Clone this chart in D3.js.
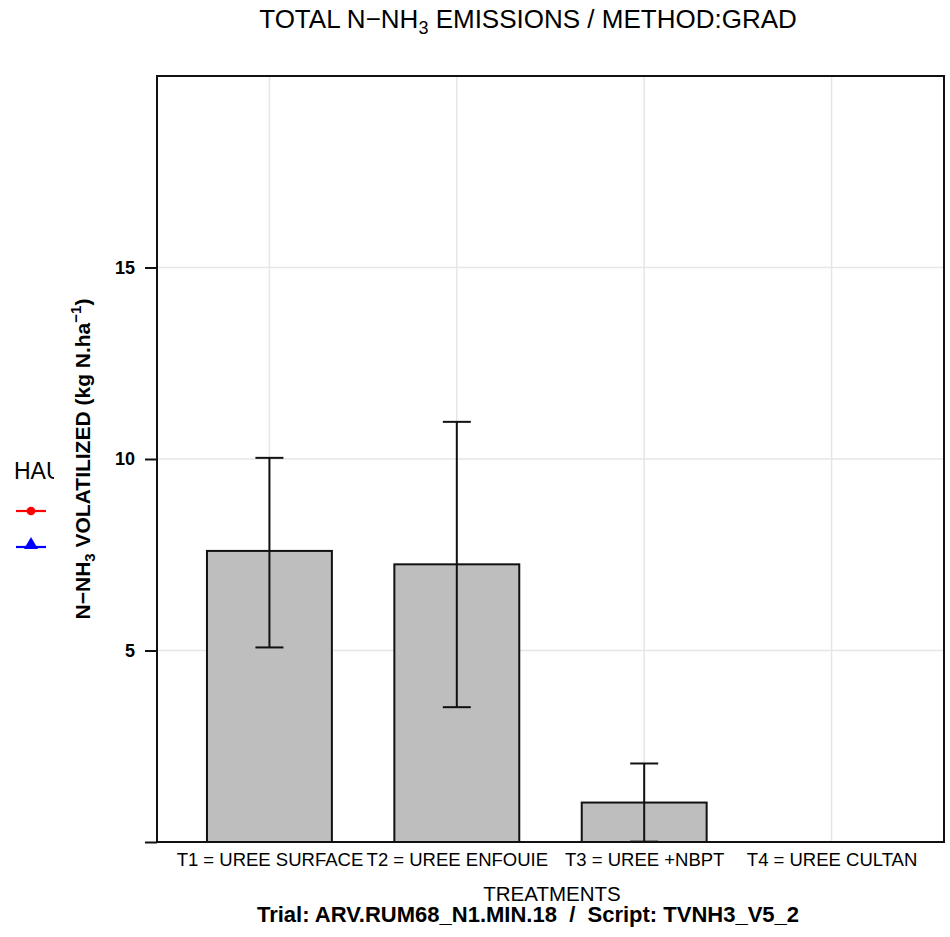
<!DOCTYPE html>
<html><head><meta charset="utf-8">
<script src="https://cdn.jsdelivr.net/npm/d3@7"></script>
<style>
body{margin:0;background:#fff}
svg{display:block;font-family:"Liberation Sans",Arial,Helvetica,sans-serif}
</style>
</head><body>
<svg id="chart" width="950" height="937"></svg>
<script>
// ---- data ----
const categories = ["T1 = UREE SURFACE", "T2 = UREE ENFOUIE", "T3 = UREE +NBPT", "T4 = UREE CULTAN"];
const means = [7.60, 7.25, 1.03, 0];
const lowerBounds = [5.08, 3.52, 0.01, 0];
const upperBounds = [10.03, 10.97, 2.05, 0];
const yTicks = [0, 5, 10, 15];
const yTickLabels = ["", "5", "10", "15"];
const yDomain = [0, 20];
const legendTitle = "HAU";
const legendColors = ["#ff0000", "#0000ff"];
const titleMain = ["TOTAL N\u2212NH", "3", " EMISSIONS / METHOD:GRAD"];
const yTitle = ["N\u2212NH", "3", " VOLATILIZED (kg N.ha", "\u22121", ")"];
const xTitle = "TREATMENTS";
const footer = "Trial: ARV.RUM68_N1.MIN.18  /  Script: TVNH3_V5_2";

// ---- layout ----
const plot = {left: 157, right: 944, top: 76, bottom: 842};
const svg = d3.select("#chart");
svg.append("rect").attr("width", 950).attr("height", 937).attr("fill", "#fff");

const x = d3.scalePoint().domain(categories).range([plot.left, plot.right]).padding(0.6);
const y = d3.scaleLinear().domain(yDomain).range([plot.bottom, plot.top]);
const barW = x.step() * 2 / 3;
const capW = 28;

const data = categories.map((c, i) => ({c, m: means[i], lo: lowerBounds[i], hi: upperBounds[i]}));

svg.append("defs").append("clipPath").attr("id", "plotclip")
  .append("rect").attr("x", plot.left).attr("y", plot.top)
  .attr("width", plot.right - plot.left).attr("height", plot.bottom - plot.top);
svg.select("defs").append("clipPath").attr("id", "legclip")
  .append("rect").attr("x", 0).attr("y", 400).attr("width", 54).attr("height", 200);

// grid
const grid = svg.append("g").attr("stroke", "#e6e6e6").attr("stroke-width", 1.5);
grid.selectAll("line.h").data(yTicks.filter(t => t > 0)).join("line")
  .attr("x1", plot.left).attr("x2", plot.right)
  .attr("y1", d => y(d)).attr("y2", d => y(d));
grid.selectAll("line.v").data(categories).join("line")
  .attr("x1", d => x(d)).attr("x2", d => x(d))
  .attr("y1", plot.top).attr("y2", plot.bottom);

// bars
const gb = svg.append("g").attr("clip-path", "url(#plotclip)");
gb.selectAll("rect.bar").data(data.filter(d => d.m > 0)).join("rect")
  .attr("x", d => x(d.c) - barW / 2).attr("width", barW)
  .attr("y", d => y(d.m)).attr("height", d => y(0) - y(d.m))
  .attr("fill", "#bebebe").attr("stroke", "#111").attr("stroke-width", 2);

// error bars
const ge = gb.append("g").attr("stroke", "#111").attr("stroke-width", 2);
ge.selectAll("line.stem").data(data).join("line")
  .attr("x1", d => x(d.c)).attr("x2", d => x(d.c))
  .attr("y1", d => y(d.lo)).attr("y2", d => y(d.hi));
ge.selectAll("line.capHi").data(data).join("line")
  .attr("x1", d => x(d.c) - capW / 2).attr("x2", d => x(d.c) + capW / 2)
  .attr("y1", d => y(d.hi)).attr("y2", d => y(d.hi));
ge.selectAll("line.capLo").data(data).join("line")
  .attr("x1", d => x(d.c) - capW / 2).attr("x2", d => x(d.c) + capW / 2)
  .attr("y1", d => y(d.lo)).attr("y2", d => y(d.lo));

// frame
svg.append("rect").attr("x", plot.left).attr("y", plot.top)
  .attr("width", plot.right - plot.left).attr("height", plot.bottom - plot.top)
  .attr("fill", "none").attr("stroke", "#111").attr("stroke-width", 2);

// y axis
const yAxis = d3.axisLeft(y).tickValues(yTicks).tickSize(12).tickPadding(10)
  .tickFormat((d, i) => yTickLabels[i]);
const gy = svg.append("g").attr("transform", `translate(${plot.left},0)`).call(yAxis);
gy.select(".domain").remove();
gy.selectAll(".tick line").attr("stroke", "#111").attr("stroke-width", 2);
gy.selectAll(".tick text").attr("font-size", "18px").attr("font-weight", "bold")
  .attr("fill", "#000").attr("font-family", '"Liberation Sans",Arial,sans-serif');

// x axis labels
const xAxis = d3.axisBottom(x).tickSize(0).tickPadding(0);
const gx = svg.append("g").attr("transform", `translate(0,${plot.bottom})`).call(xAxis);
gx.select(".domain").remove();
gx.selectAll(".tick text").attr("font-size", "18.5px").attr("fill", "#000")
  .attr("dy", null).attr("y", 24)
  .attr("font-family", '"Liberation Sans",Arial,sans-serif');

// title
const t = svg.append("text").attr("x", 528).attr("y", 28).attr("text-anchor", "middle")
  .attr("font-size", "26px").attr("fill", "#000");
t.append("tspan").text(titleMain[0]);
t.append("tspan").attr("font-size", "18px").attr("dy", 6).text(titleMain[1]);
t.append("tspan").attr("dy", -6).text(titleMain[2]);

// y title
const yt = svg.append("text").attr("transform", "translate(90,459) rotate(-90)")
  .attr("text-anchor", "middle").attr("font-size", "21px").attr("font-weight", "bold").attr("fill", "#000");
yt.append("tspan").text(yTitle[0]);
yt.append("tspan").attr("font-size", "15px").attr("dy", 5).text(yTitle[1]);
yt.append("tspan").attr("dy", -5).text(yTitle[2]);
yt.append("tspan").attr("font-size", "15px").attr("dy", -9).text(yTitle[3]);
yt.append("tspan").attr("dy", 9).text(yTitle[4]);

// x title
svg.append("text").attr("x", 552).attr("y", 901).attr("text-anchor", "middle")
  .attr("font-size", "20.5px").attr("fill", "#000").text(xTitle);

// footer
svg.append("text").attr("x", 528).attr("y", 922).attr("text-anchor", "middle")
  .attr("font-size", "22px").attr("font-weight", "bold").attr("fill", "#000")
  .attr("xml:space", "preserve").style("white-space", "pre").text(footer);

// legend (clipped)
const gl = svg.append("g").attr("clip-path", "url(#legclip)");
gl.append("text").attr("x", 14).attr("y", 479).attr("font-size", "23px").attr("fill", "#000").text(legendTitle);
const legY = [511, 547];
const symbols = [d3.symbolCircle, d3.symbolTriangle];
const symSizes = [60, 85];
legendColors.forEach((col, i) => {
  gl.append("line").attr("x1", 16).attr("x2", 46).attr("y1", legY[i]).attr("y2", legY[i])
    .attr("stroke", col).attr("stroke-width", 2.2);
  gl.append("path").attr("d", d3.symbol().type(symbols[i]).size(symSizes[i])())
    .attr("transform", `translate(31,${legY[i] - (i === 1 ? 2 : 0)})`).attr("fill", col);
});
</script>
</body></html>
